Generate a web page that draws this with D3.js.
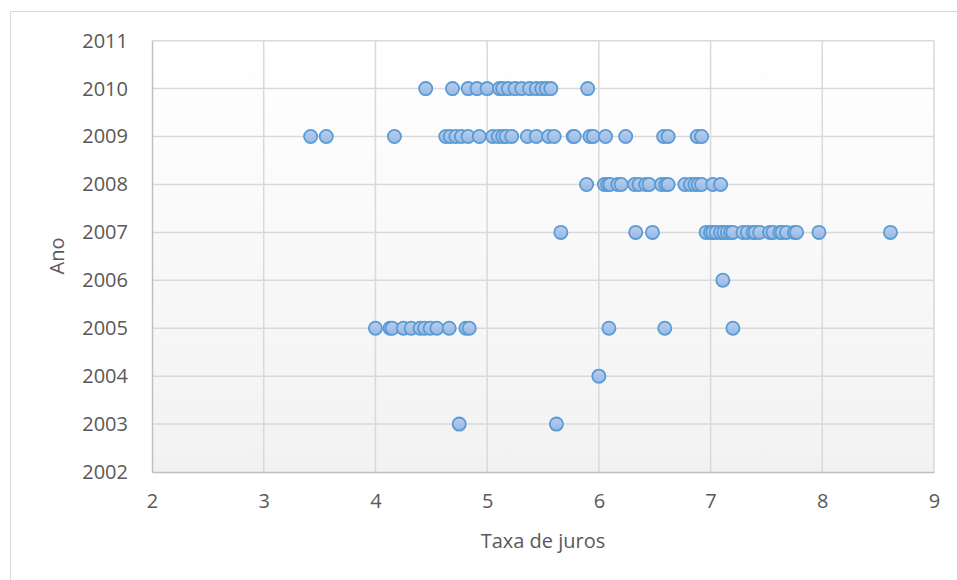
<!DOCTYPE html>
<html>
<head>
<meta charset="utf-8">
<script src="https://cdn.jsdelivr.net/npm/d3@7"></script>
<style>
  html, body { margin: 0; padding: 0; background: #fff; }
  svg { display: block; }
  text { font-family: "Open Sans", "Noto Sans", sans-serif; fill: #595959; }
</style>
</head>
<body>
<svg id="chart" width="957" height="580"></svg>
<script>
// Interest rate (Taxa de juros) observations grouped by year (Ano)
const years = [2003, 2004, 2005, 2006, 2007, 2008, 2009, 2010];
const rates2003 = [4.75, 5.62];
const rates2004 = [6.0];
const rates2005 = [4.0, 4.13, 4.15, 4.25, 4.32, 4.4, 4.44, 4.49, 4.55, 4.66, 4.81, 4.84, 6.09, 6.59, 7.2];
const rates2006 = [7.11];
const rates2007 = [5.66, 6.33, 6.48, 6.96, 7.0, 7.02, 7.05, 7.09, 7.12, 7.15, 7.18, 7.2, 7.29, 7.33, 7.38, 7.4, 7.44, 7.53, 7.56, 7.62, 7.64, 7.68, 7.75, 7.77, 7.97, 8.61];
const rates2008 = [5.89, 6.05, 6.08, 6.1, 6.17, 6.2, 6.32, 6.36, 6.42, 6.45, 6.56, 6.6, 6.62, 6.77, 6.82, 6.86, 6.89, 6.92, 7.02, 7.09];
const rates2009 = [3.42, 3.56, 4.17, 4.63, 4.67, 4.72, 4.77, 4.83, 4.93, 5.05, 5.1, 5.14, 5.17, 5.22, 5.36, 5.44, 5.55, 5.6, 5.77, 5.78, 5.92, 5.95, 6.06, 6.24, 6.58, 6.62, 6.88, 6.92];
const rates2010 = [4.45, 4.69, 4.83, 4.91, 5.0, 5.11, 5.14, 5.19, 5.25, 5.31, 5.38, 5.44, 5.49, 5.53, 5.57, 5.9];
const ratesByYear = [rates2003, rates2004, rates2005, rates2006, rates2007, rates2008, rates2009, rates2010];

const xTicks = [2, 3, 4, 5, 6, 7, 8, 9];
const yTicks = [2002, 2003, 2004, 2005, 2006, 2007, 2008, 2009, 2010, 2011];
const xTitle = "Taxa de juros";
const yTitle = "Ano";

const points = [];
years.forEach((yr, i) => ratesByYear[i].forEach(r => points.push({ x: r, y: yr })));

const svg = d3.select("#chart");
const margin = { left: 152, top: 40.7, right: 957 - 934, bottom: 580 - 472 };
const W = 957 - margin.left - margin.right;
const H = 580 - margin.top - margin.bottom;

const x = d3.scaleLinear().domain([2, 9]).range([0, W]);
const y = d3.scaleLinear().domain([2002, 2011]).range([H, 0]);

// outer chart frame
svg.append("rect")
  .attr("x", 10.5).attr("y", 11.5).attr("width", 960).attr("height", 600)
  .attr("fill", "#fff").attr("stroke", "#d9d9d9").attr("stroke-width", 1);

const defs = svg.append("defs");
const bg = defs.append("linearGradient").attr("id", "plotBg")
  .attr("x1", 0).attr("y1", 0).attr("x2", 0).attr("y2", 1);
bg.append("stop").attr("offset", "0%").attr("stop-color", "#ffffff");
bg.append("stop").attr("offset", "100%").attr("stop-color", "#f2f2f2");

const mk = defs.append("linearGradient").attr("id", "markerFill")
  .attr("x1", 0).attr("y1", 0).attr("x2", 0).attr("y2", 1);
mk.append("stop").attr("offset", "0%").attr("stop-color", "#b7cfee");
mk.append("stop").attr("offset", "100%").attr("stop-color", "#98b8e3");

const g = svg.append("g").attr("transform", `translate(${margin.left},${margin.top})`);

g.append("rect").attr("width", W).attr("height", H).attr("fill", "url(#plotBg)");

// gridlines
g.append("g").selectAll("line").data(xTicks.slice(1)).join("line")
  .attr("x1", d => x(d)).attr("x2", d => x(d)).attr("y1", 0).attr("y2", H)
  .attr("stroke", "#d9d9d9").attr("stroke-width", 1.5);
g.append("g").selectAll("line").data(yTicks.slice(1)).join("line")
  .attr("x1", 0).attr("x2", W).attr("y1", d => y(d)).attr("y2", d => y(d))
  .attr("stroke", "#d9d9d9").attr("stroke-width", 1.5);

// axes
const xAxis = g.append("g").attr("transform", `translate(0,${H})`)
  .call(d3.axisBottom(x).tickValues(xTicks).tickFormat(d3.format("d")).tickSize(0).tickPadding(22));
const yAxis = g.append("g")
  .call(d3.axisLeft(y).tickValues(yTicks).tickFormat(d3.format("d")).tickSize(0).tickPadding(24));
[xAxis, yAxis].forEach(a => {
  a.select(".domain").attr("stroke", "#bfbfbf").attr("stroke-width", 1.5);
  a.selectAll("text").attr("font-size", 20).attr("fill", "#595959")
    .style("font-family", "'Open Sans', sans-serif");
});

// markers
g.append("g").selectAll("circle").data(points).join("circle")
  .attr("cx", d => x(d.x)).attr("cy", d => y(d.y)).attr("r", 6.6)
  .attr("fill", "url(#markerFill)").attr("stroke", "#5b9bd5").attr("stroke-width", 1.8);

// axis titles
svg.append("text").attr("x", margin.left + W / 2).attr("y", 548)
  .attr("text-anchor", "middle").attr("font-size", 20).text(xTitle);
svg.append("text").attr("transform", "translate(64,256) rotate(-90)")
  .attr("text-anchor", "middle").attr("font-size", 20).text(yTitle);
</script>
</body>
</html>
